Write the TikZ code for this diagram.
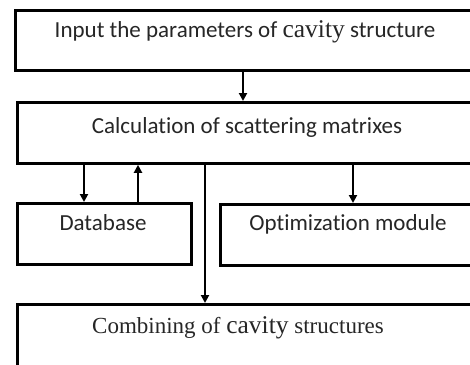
\documentclass[tikz,border=0pt]{standalone}
\usepackage{fontspec}
\setmainfont{Carlito}[RawFeature=-liga]
\newfontfamily\tms{Liberation Serif}
\usetikzlibrary{arrows.meta}
\begin{document}
\begin{tikzpicture}[x=1pt,y=-1pt,
  box/.style={draw=black,line width=2.8pt,rectangle,inner sep=0pt,anchor=north west},
  lbl/.style={inner sep=0pt,text=black!85,font=\fontsize{23}{26}\selectfont},
  arr/.style={line width=2.4pt,-{Triangle[width=8pt,length=8pt]}}]
\useasboundingbox (0,0) rectangle (470,364);
\clip (0,0) rectangle (470,364);
\fill[white] (0,0) rectangle (470,364);

% boxes (right edges run just past the page)
\node[box,minimum width=464pt,minimum height=60pt] (inp) at (14,9) {};
\node[box,minimum width=462pt,minimum height=61pt] (calc) at (16,101) {};
\node[box,minimum width=174pt,minimum height=61pt] (db) at (16,202) {};
\node[box,minimum width=259pt,minimum height=61pt] (opt) at (219,203) {};
\node[box,minimum width=462pt,minimum height=62pt] (comb) at (16,303) {};

% labels
\node[lbl] (tinp) at (245,32) {Input the parameters of {\tms\fontsize{25.5}{28}\selectfont cavity} structure};
\node[lbl] (tcalc) at (247,127) {Calculation of scattering matrixes};
\node[lbl] (tdb) at (103,223) {Database};
\node[lbl] (topt) at (348,224) {Optimization module};
\node[lbl,font=\tms\fontsize{23}{26}\selectfont] (tcomb) at (238,328) {Combining of {\fontsize{25.5}{28}\selectfont cavity} structures};

% connectors
\draw[arr] (inp.south -| 243,0) -- (calc.north -| 243,0);
\draw[arr] (calc.south -| 84,0) -- (db.north -| 84,0);
\draw[arr] (db.north -| 138,0) -- (calc.south -| 138,0);
\draw[arr] (calc.south -| 205,0) -- (comb.north -| 205,0);
\draw[arr] (calc.south -| 353,0) -- (opt.north -| 353,0);
\end{tikzpicture}
\end{document}
